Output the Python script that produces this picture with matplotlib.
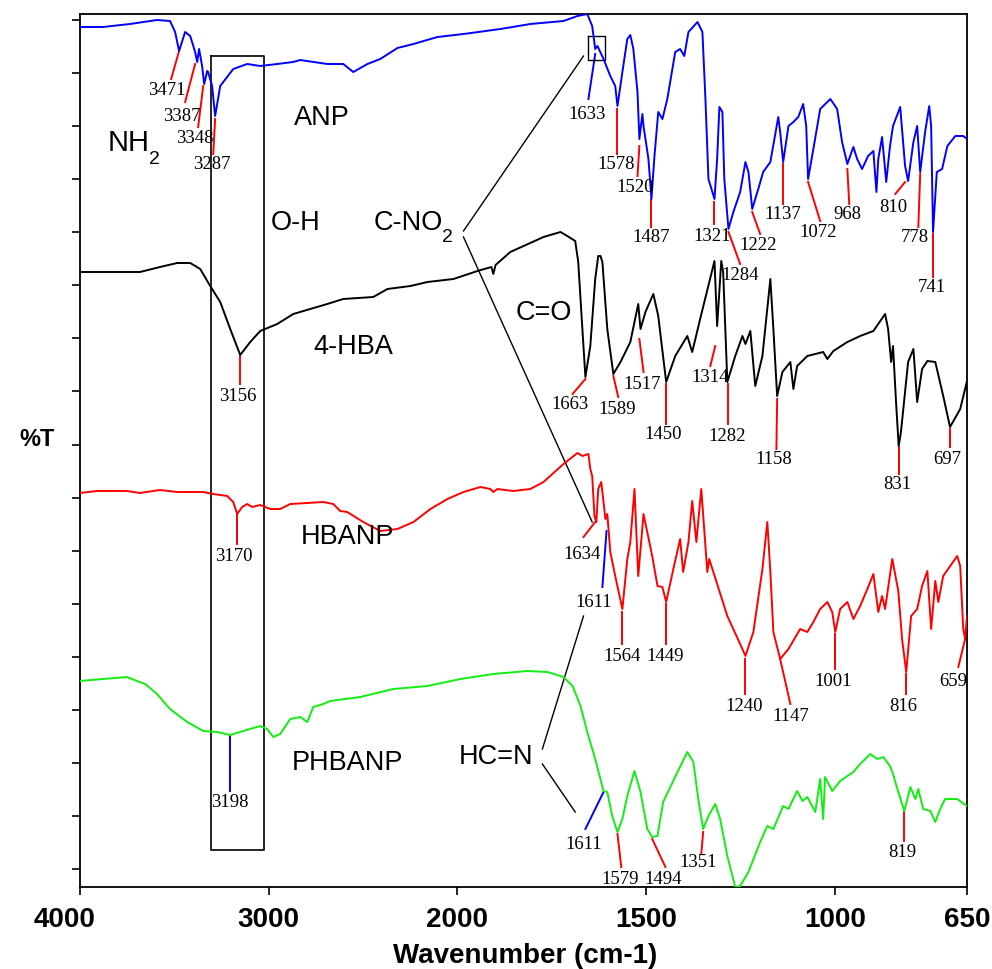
import numpy as np
import matplotlib
matplotlib.use("Agg")
import matplotlib.pyplot as plt
import matplotlib.transforms as mtransforms

# ---------------- data (wavenumber cm-1, %T offset units) ----------------
anp_wn = [4000, 3878, 3735, 3592, 3523, 3496, 3475, 3443, 3416, 3390, 3379, 3369, 3353, 3342, 3326, 3321, 3300, 3284, 3257, 3188,
          3114, 3045, 2955, 2870, 2833, 2690, 2605, 2552, 2477, 2409, 2318, 2233, 2106, 1984, 1886, 1807, 1719, 1682, 1656, 1643,
          1635, 1629, 1613, 1595, 1582, 1576, 1563, 1550, 1542, 1534, 1523, 1518, 1510, 1507, 1494, 1486, 1478, 1468, 1457, 1444,
          1423, 1410, 1399, 1388, 1364, 1351, 1343, 1335, 1319, 1312, 1306, 1298, 1293, 1282, 1269, 1251, 1237, 1229, 1219, 1203,
          1190, 1171, 1150, 1145, 1137, 1123, 1110, 1097, 1084, 1076, 1071, 1057, 1039, 1012, 994, 981, 967, 951, 941, 928,
          912, 898, 890, 885, 875, 864, 854, 846, 827, 814, 806, 792, 782, 774, 761, 750, 745, 740, 730, 716,
          702, 681, 660, 650]
anp_t = [97.2, 97.2, 97.5, 97.9, 97.8, 96.7, 94.8, 96.7, 96.3, 94.7, 93.7, 95.0, 93.3, 91.5, 92.8, 92.7, 91.3, 88.3, 91.3, 93.0,
         93.5, 93.3, 93.5, 93.7, 93.9, 93.5, 93.5, 92.7, 93.5, 94.0, 95.1, 95.5, 96.2, 96.5, 97.0, 97.5, 97.8, 98.3, 98.5, 97.3,
         95.0, 95.3, 94.0, 92.3, 91.3, 89.3, 92.7, 96.0, 96.4, 95.0, 90.7, 86.0, 88.5, 87.3, 84.0, 80.0, 84.3, 88.7, 88.0, 90.0,
         94.7, 95.0, 94.3, 96.7, 97.7, 96.7, 90.0, 82.0, 80.0, 84.0, 89.2, 88.7, 82.0, 77.0, 78.7, 80.7, 83.7, 82.7, 79.0, 81.0,
         82.7, 83.7, 88.2, 86.7, 83.7, 87.3, 87.7, 88.2, 89.5, 87.3, 82.0, 85.0, 89.0, 90.0, 89.0, 85.7, 83.5, 85.2, 84.0, 83.0,
         84.3, 84.8, 80.7, 84.0, 86.2, 81.7, 85.3, 87.3, 89.2, 83.3, 81.8, 85.7, 87.3, 82.7, 86.7, 89.3, 87.3, 76.7, 82.7, 83.0,
         85.3, 86.3, 86.3, 86.0]

hba_wn = [4000, 3814, 3682, 3576, 3485, 3416, 3363, 3310, 3257, 3204, 3151, 3098, 3045, 2955, 2870, 2780, 2690, 2605, 2446, 2371,
          2249, 2159, 2021, 1947, 1910, 1905, 1899, 1860, 1772, 1727, 1709, 1688, 1680, 1669, 1661, 1648, 1635, 1627, 1621, 1616,
          1603, 1587, 1568, 1542, 1521, 1515, 1502, 1481, 1468, 1447, 1423, 1391, 1378, 1357, 1319, 1312, 1301, 1296, 1285, 1264,
          1245, 1237, 1224, 1211, 1192, 1171, 1163, 1153, 1139, 1118, 1110, 1100, 1073, 1031, 1020, 1004, 967, 933, 898, 867,
          859, 851, 846, 838, 831, 825, 806, 792, 782, 769, 755, 734, 713, 695, 668, 650]
hba_t = [72.7, 72.7, 72.7, 73.2, 73.6, 73.6, 73.0, 71.3, 69.7, 67.0, 64.4, 65.7, 66.8, 67.5, 68.5, 69.0, 69.5, 70.0, 70.2, 71.0,
         71.3, 71.7, 72.0, 72.8, 73.2, 72.5, 73.4, 74.7, 76.2, 76.7, 76.3, 75.8, 73.7, 67.0, 62.2, 65.3, 72.0, 74.3, 74.3, 73.7,
         67.0, 62.5, 63.7, 65.7, 69.5, 67.0, 68.7, 70.5, 68.3, 61.7, 64.3, 66.3, 64.7, 68.0, 73.8, 67.3, 73.8, 72.7, 61.7, 64.3,
         66.3, 65.5, 66.8, 61.3, 64.3, 72.0, 67.0, 60.3, 62.7, 63.7, 61.0, 63.3, 64.3, 64.7, 64.0, 64.8, 65.7, 66.3, 66.8, 68.5,
         67.0, 63.7, 65.3, 59.7, 55.3, 56.7, 63.7, 65.0, 59.7, 63.0, 63.8, 63.7, 60.3, 57.2, 59.0, 61.8]

hbanp_wn = [4000, 3910, 3751, 3682, 3576, 3485, 3347, 3294, 3220, 3188, 3167, 3141, 3114, 3088, 3045, 2992, 2939, 2886, 2796, 2711,
            2658, 2621, 2584, 2499, 2409, 2318, 2233, 2143, 2053, 1984, 1939, 1913, 1905, 1894, 1852, 1807, 1772, 1719, 1682, 1669,
            1653, 1648, 1643, 1637, 1632, 1627, 1619, 1613, 1608, 1603, 1595, 1582, 1563, 1550, 1542, 1531, 1521, 1507, 1484, 1470,
            1457, 1447, 1428, 1410, 1402, 1388, 1378, 1367, 1354, 1338, 1333, 1312, 1285, 1251, 1237, 1216, 1192, 1179, 1171, 1163,
            1145, 1123, 1092, 1073, 1057, 1039, 1020, 1007, 999, 986, 967, 951, 933, 914, 898, 885, 875, 867, 848, 832,
            822, 811, 798, 782, 769, 755, 745, 734, 726, 713, 676, 668, 660, 655, 650]
hbanp_t = [50.6, 50.8, 50.8, 50.6, 50.9, 50.7, 50.7, 50.5, 50.3, 49.7, 48.5, 49.2, 49.5, 49.2, 49.4, 49.0, 49.0, 49.5, 49.6, 49.7,
           49.5, 48.8, 48.7, 47.7, 46.8, 47.0, 47.7, 49.0, 50.0, 50.7, 51.2, 51.0, 50.7, 51.0, 50.8, 51.0, 51.7, 53.5, 54.6, 54.3,
           54.5, 53.0, 52.3, 48.3, 47.7, 51.0, 51.7, 49.7, 48.0, 48.5, 44.7, 42.3, 39.0, 44.0, 45.7, 51.0, 42.3, 48.5, 44.3, 41.3,
           41.2, 39.7, 43.0, 46.0, 42.7, 45.7, 49.8, 45.7, 51.0, 42.7, 44.0, 41.5, 38.3, 35.5, 34.3, 36.7, 43.0, 47.7, 42.7, 36.7,
           34.0, 35.0, 37.0, 36.7, 37.7, 39.0, 39.7, 38.7, 36.7, 39.0, 39.7, 38.0, 39.3, 41.0, 42.5, 38.7, 40.3, 39.0, 44.0, 40.8,
           36.0, 32.7, 38.3, 39.0, 41.3, 42.8, 37.0, 41.8, 39.7, 42.3, 44.3, 43.3, 37.0, 36.0, 38.3]

phbanp_wn = [4000, 3878, 3751, 3698, 3655, 3592, 3523, 3432, 3347, 3273, 3204, 3135, 3045, 3008, 2976, 2939, 2886, 2833, 2796, 2764,
             2711, 2674, 2515, 2340, 2159, 1992, 1905, 1815, 1762, 1719, 1695, 1674, 1656, 1635, 1613, 1603, 1590, 1576, 1563, 1550,
             1531, 1515, 1497, 1484, 1470, 1455, 1417, 1391, 1375, 1362, 1349, 1335, 1317, 1304, 1285, 1264, 1251, 1229, 1198, 1179,
             1163, 1137, 1123, 1100, 1086, 1073, 1052, 1039, 1031, 1026, 1007, 986, 967, 951, 933, 906, 888, 872, 854, 846,
             832, 816, 800, 787, 779, 766, 747, 734, 721, 708, 676, 650]
phbanp_t = [31.8, 32.0, 32.2, 31.8, 31.5, 30.5, 29.0, 27.7, 26.8, 26.7, 26.4, 26.8, 27.3, 27.0, 26.2, 26.5, 28.0, 28.2, 27.7, 29.2,
            29.5, 29.8, 30.2, 31.0, 31.3, 32.0, 32.5, 32.8, 32.7, 32.2, 31.3, 29.3, 26.7, 24.0, 20.8, 20.7, 18.3, 16.7, 18.0, 20.3,
            22.8, 20.7, 17.0, 16.2, 16.3, 19.7, 22.7, 24.7, 23.7, 20.0, 17.0, 18.3, 19.5, 18.0, 14.3, 11.2, 11.3, 12.7, 15.7, 17.3,
            17.0, 19.3, 19.0, 20.8, 19.8, 20.2, 18.7, 22.0, 18.0, 22.2, 20.8, 21.8, 22.3, 22.7, 23.5, 24.5, 24.0, 24.2, 23.3, 22.5,
            20.7, 18.8, 21.2, 20.0, 21.0, 19.0, 18.8, 17.7, 19.0, 20.0, 20.0, 19.3]

x_ticks = [4000, 3000, 2000, 1500, 1000, 650]

# peak marks: (label, peak wn, peak T, line-end wn, line-end T, text wn, text T, colour key)
anp_marks = [("3471", 3475, 94.8, 3517, 92.0, 3538, 90.9, "r"), ("3387", 3390, 93.5, 3443, 89.7, 3459, 88.3, "r"),
             ("3348", 3347, 91.3, 3374, 87.2, 3390, 86.1, "r"), ("3287", 3284, 88.0, 3294, 84.5, 3300, 83.5, "r"),
             ("1633", 1635, 94.5, 1653, 90.0, 1656, 88.5, "b"), ("1578", 1576, 89.0, 1576, 84.5, 1579, 83.5, "r"),
             ("1520", 1518, 85.3, 1523, 82.3, 1529, 81.2, "r"), ("1487", 1486, 80.0, 1486, 77.2, 1486, 76.2, "r"),
             ("1321", 1319, 79.7, 1319, 77.5, 1325, 76.3, "r"), ("1284", 1282, 76.7, 1251, 73.5, 1251, 72.4, "r"),
             ("1222", 1219, 78.7, 1198, 76.5, 1203, 75.4, "r"), ("1137", 1137, 83.5, 1137, 79.5, 1137, 78.5, "r"),
             ("1072", 1071, 81.7, 1039, 77.8, 1044, 76.7, "r"), ("968", 967, 83.0, 962, 79.5, 967, 78.5, "r"),
             ("810", 814, 81.7, 840, 80.5, 846, 79.2, "r"), ("778", 774, 82.5, 779, 77.2, 787, 76.2, "r"),
             ("741", 740, 76.5, 740, 72.2, 742, 71.2, "r")]
hba_marks = [("3156", 3151, 64.3, 3151, 61.5, 3162, 60.3, "r"), ("1663", 1661, 62.0, 1695, 60.5, 1701, 59.5, "r"),
             ("1589", 1587, 62.3, 1574, 60.2, 1576, 59.0, "r"), ("1517", 1518, 66.0, 1507, 62.7, 1510, 61.5, "r"),
             ("1450", 1447, 61.5, 1447, 57.5, 1455, 56.5, "r"), ("1314", 1317, 65.3, 1330, 63.3, 1330, 62.2, "r"),
             ("1282", 1282, 61.5, 1282, 57.5, 1285, 56.3, "r"), ("1158", 1153, 60.0, 1155, 55.0, 1163, 54.0, "r"),
             ("831", 829, 55.2, 829, 52.5, 835, 51.5, "r"), ("697", 695, 57.0, 695, 55.2, 702, 54.0, "r")]
hbanp_marks = [("3170", 3167, 48.5, 3167, 45.5, 3185, 44.3, "r"), ("1634", 1635, 47.7, 1666, 46.2, 1669, 44.5, "r"),
               ("1611", 1605, 46.8, 1616, 41.2, 1640, 39.7, "b"), ("1564", 1563, 38.7, 1563, 35.5, 1563, 34.3, "r"),
               ("1449", 1447, 39.5, 1447, 35.5, 1449, 34.3, "r"), ("1240", 1237, 34.0, 1237, 30.5, 1240, 29.3, "r"),
               ("1147", 1145, 34.0, 1118, 29.5, 1118, 28.3, "r"), ("1001", 999, 36.5, 999, 33.0, 1004, 31.8, "r"),
               ("816", 811, 32.5, 811, 30.5, 819, 29.3, "r"), ("659", 655, 36.0, 673, 33.2, 686, 31.8, "r")]
phbanp_marks = [("3198", 3204, 26.3, 3204, 20.8, 3204, 19.7, "b"), ("1611", 1613, 20.7, 1661, 17.0, 1666, 15.5, "b"),
                ("1579", 1576, 16.5, 1566, 13.2, 1568, 12.0, "r"), ("1494", 1484, 16.0, 1449, 13.2, 1455, 12.0, "r"),
                ("1351", 1349, 16.7, 1354, 14.5, 1362, 13.7, "r"), ("819", 816, 18.7, 816, 15.8, 822, 14.7, "r")]

# ---------------- figure ----------------
W, H = 992, 970
fig = plt.figure(figsize=(W / 100, H / 100), dpi=100)
ax = fig.add_axes([80 / W, 1 - 888 / H, 887 / W, 873 / H])

def fwd(w):
    w = np.asarray(w, dtype=float)
    return np.where(w >= 2000, w, 2 * w - 2000)

def inv(u):
    u = np.asarray(u, dtype=float)
    return np.where(u >= 2000, u, (u + 2000) / 2)

ax.set_xscale('function', functions=(fwd, inv))
ax.set_xlim(4000, 650)
ax.set_ylim(11.2, 98.5)

cols = {"r": "#ff0000", "b": "#0000ff", "g": "#11ee11", "k": "#000000"}
SANS = "Liberation Sans"
SERIF = "Liberation Serif"

series = [(anp_wn, anp_t, "b", anp_marks), (hba_wn, hba_t, "k", hba_marks),
          (hbanp_wn, hbanp_t, "r", hbanp_marks), (phbanp_wn, phbanp_t, "g", phbanp_marks)]
for wn, t, c, marks in series:
    ax.plot(wn, t, color=cols[c], lw=1.4, zorder=3)
    for lab, w0, t0, w1, t1, wt, tt, mc in marks:
        ax.plot([w0, w1], [t0, t1], color=cols[mc], lw=1.4, zorder=2)
        ax.text(wt, tt, lab, ha='center', va='center', fontsize=13.5, family=SERIF, zorder=4)

# boxes and connector lines
ax.plot([3305, 3024, 3024, 3305, 3305], [94.3, 94.3, 14.9, 14.9, 94.3], color='k', lw=1.2)
ax.plot([1653, 1608, 1608, 1653, 1653], [96.3, 96.3, 93.9, 93.9, 96.3], color='k', lw=1.0)
ax.plot([1984, 1666], [76.8, 94.3], color='k', lw=1.0)
ax.plot([1984, 1643], [76.2, 47.7], color='k', lw=1.0)
ax.plot([1775, 1666], [25.0, 38.3], color='k', lw=1.0)
ax.plot([1775, 1688], [23.5, 18.7], color='k', lw=1.0)

# group labels
lab_kw = dict(ha='center', va='center', fontsize=19.5, family=SANS)
ax.text(3743, 85.7, "NH", ha='center', va='center', fontsize=21, family=SANS)
ax.text(3605, 84.0, "2", ha='center', va='center', fontsize=14, family=SANS)
ax.text(2716, 88.2, "ANP", **lab_kw)
ax.text(2859, 77.7, "O-H", **lab_kw)
ax.text(2260, 77.7, "C-NO", **lab_kw)
ax.text(2055, 76.2, "2", ha='center', va='center', fontsize=14, family=SANS)
ax.text(2552, 65.3, "4-HBA", **lab_kw)
ax.text(1772, 68.7, "C=O", **lab_kw)
ax.text(2584, 46.3, "HBANP", **lab_kw)
ax.text(2584, 23.7, "PHBANP", **lab_kw)
ax.text(1899, 24.3, "HC=N", **lab_kw)

# axes styling
ax.set_xticks(x_ticks)
ax.set_xticklabels([str(v) for v in x_ticks])
ax.minorticks_off()
ax.set_yticks(np.linspace(13.0, 97.9, 17))
ax.set_yticklabels([])
ax.tick_params(axis='both', direction='out', length=6, width=1.2, colors='k')
ax.tick_params(axis='x', pad=8)
for lbl in ax.get_xticklabels():
    lbl.set_fontsize(20)
    lbl.set_fontweight('bold')
    lbl.set_family(SANS)
first = ax.get_xticklabels()[0]
first.set_transform(first.get_transform() + mtransforms.ScaledTranslation(-15 / 100, 0, fig.dpi_scale_trans))
for s in ax.spines.values():
    s.set_linewidth(1.3)

fig.text(525 / W, 1 - 956 / H, "Wavenumber (cm-1)", ha='center', va='center', fontsize=20, fontweight='bold', family=SANS)
fig.text(37 / W, 1 - 440 / H, "%T", ha='center', va='center', fontsize=17, fontweight='bold', family=SANS)

fig.savefig("out.png", dpi=100)
